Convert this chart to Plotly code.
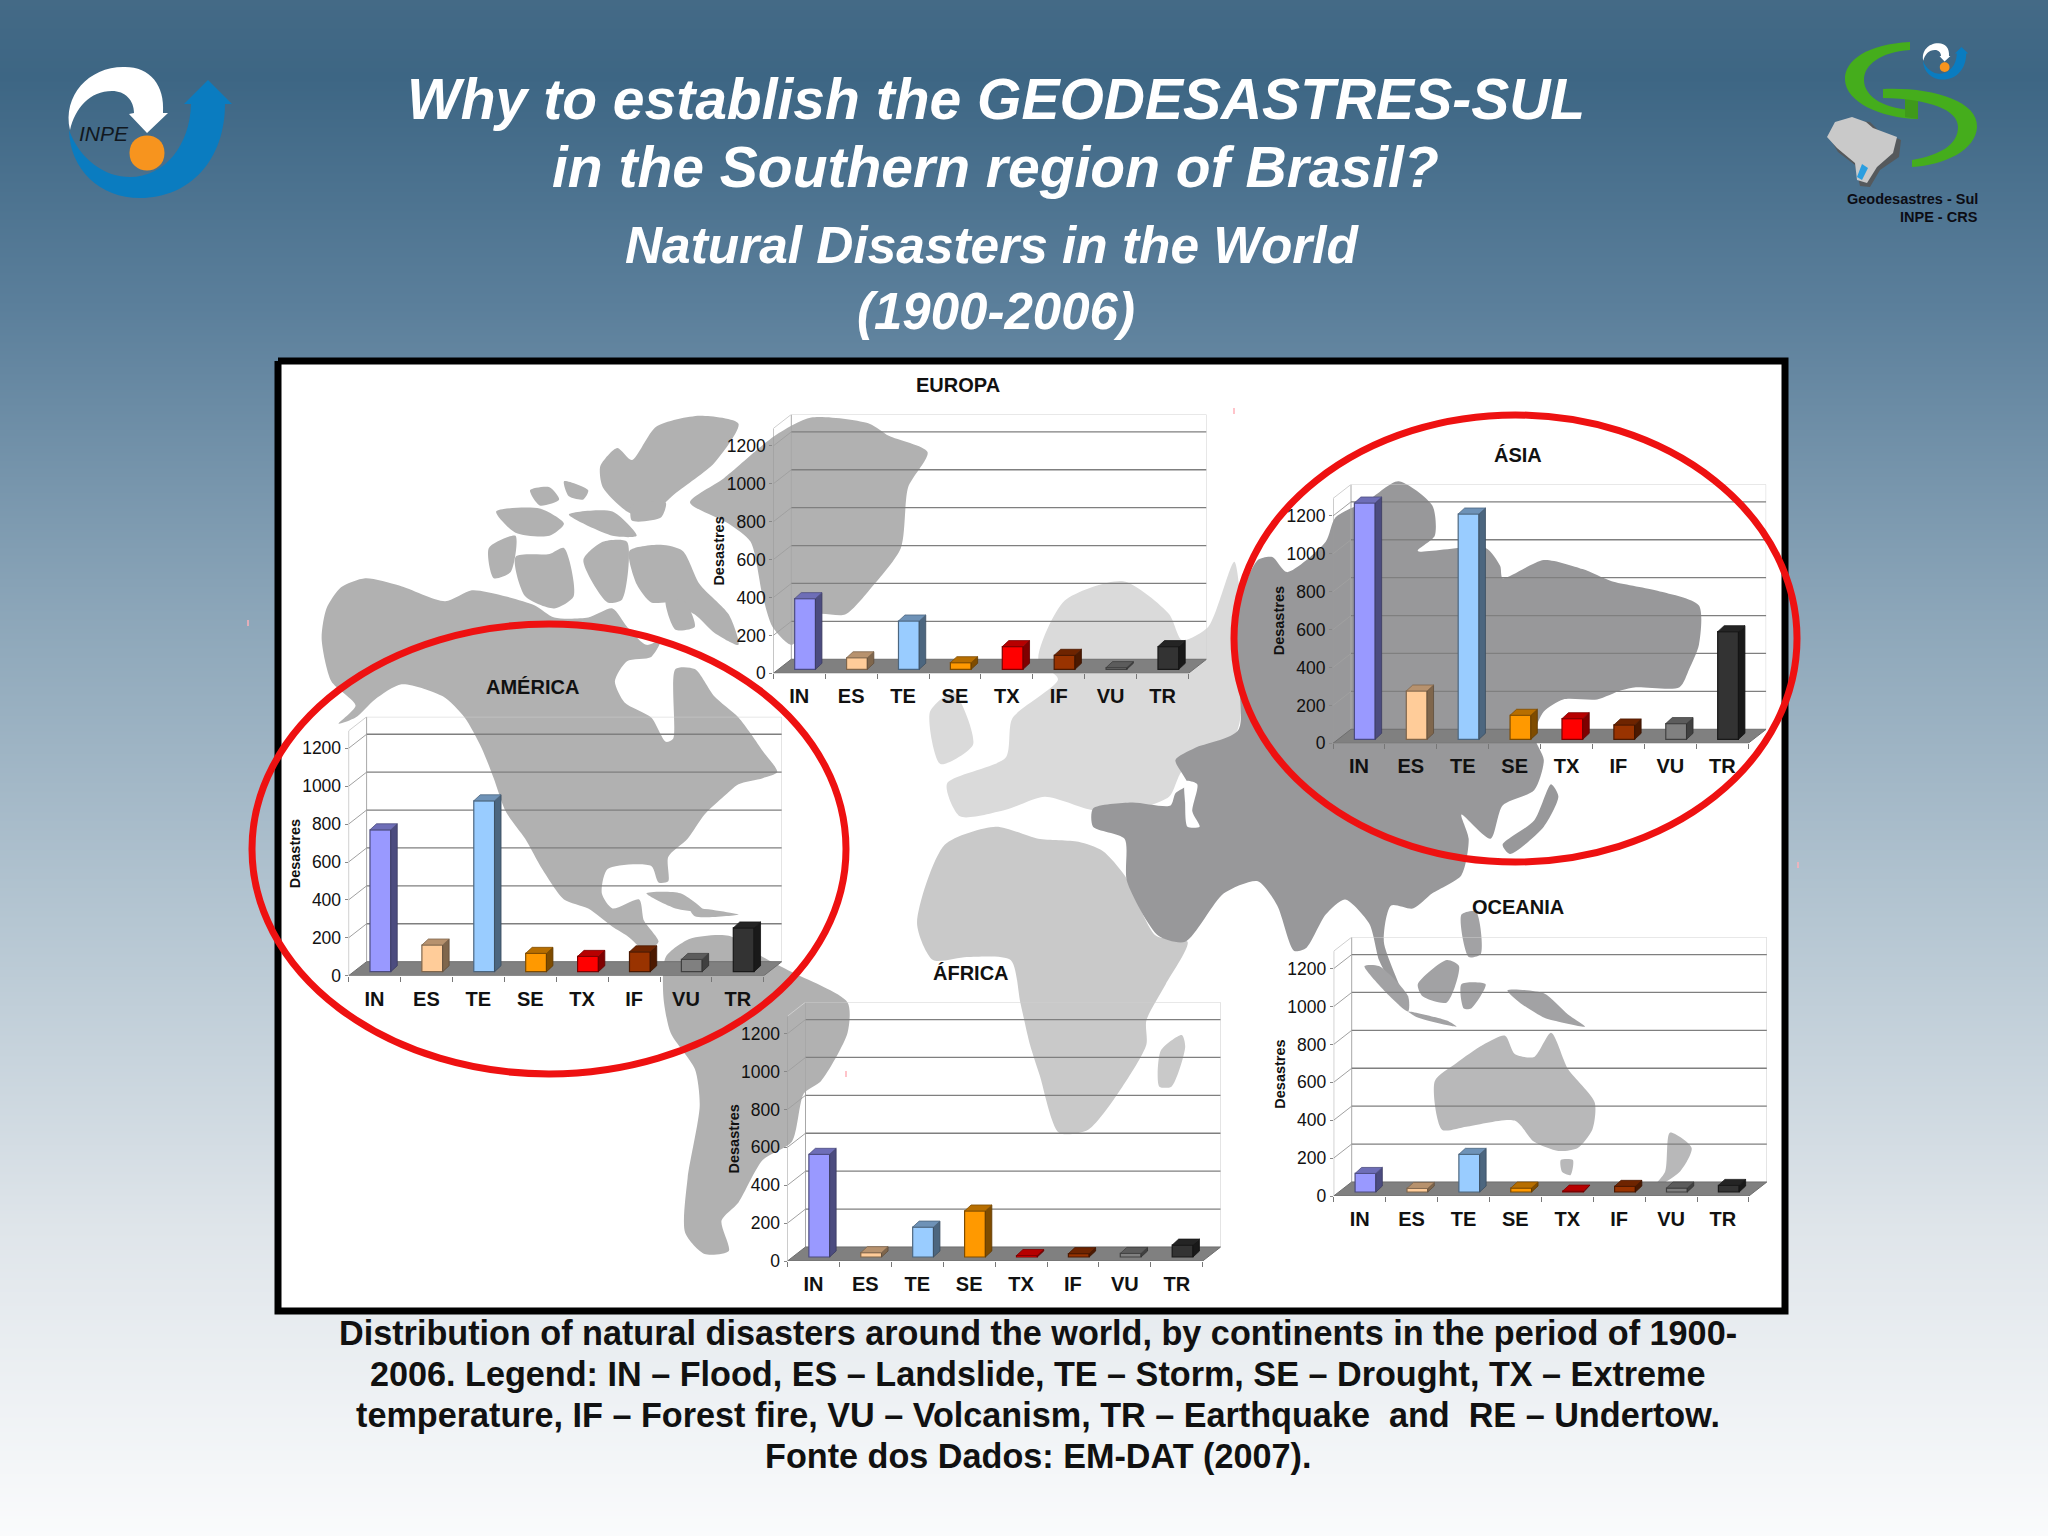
import re
import plotly.graph_objects as go

W, H = 2048, 1536
FONT = "Liberation Sans"

# values
CATEGORIES = ["IN", "ES", "TE", "SE", "TX", "IF", "VU", "TR"]
Y_TICKS = [0, 200, 400, 600, 800, 1000, 1200]
AMERICA = [749, 141, 902, 97, 81, 105, 65, 231]
EUROPA = [373, 61, 255, 35, 120, 74, 9, 120]
ASIA = [1247, 255, 1189, 127, 109, 76, 83, 568]
AFRICA = [542, 23, 158, 243, 8, 18, 19, 63]
OCEANIA = [98, 19, 199, 21, 5, 30, 21, 35]
BAR_COLORS = ["#9999ff", "#ffcc99", "#99ccff", "#ff9900", "#ff0000", "#993300", "#808080", "#333333"]

# name, values, x of front axis, y of front zero, title x, title y
PANELS = [
    ("AMÉRICA", AMERICA, 348.6, 975.7, 532, 687),
    ("EUROPA", EUROPA, 773.3, 673.3, 958, 385),
    ("ÁSIA", ASIA, 1333.0, 743.3, 1518, 455),
    ("ÁFRICA", AFRICA, 787.5, 1261.0, 971, 973),
    ("OCEANIA", OCEANIA, 1333.7, 1196.0, 1518, 907),
]

# page background, top to bottom
BG_STOPS = [[0, "#446a86"], [0.05, "#3d6684"], [0.2, "#5b7f9b"], [0.4, "#8ca6b9"],
            [0.6, "#b5c6d2"], [0.8, "#dfe5ea"], [1, "#fafbfc"]]

# map outlines, in the pixels of the crops they were traced on
L = (278, 360, 2.063, 1.65)
R = (1030, 360, 2.063, 1.65)
A = (710, 950, 2.904, 3)
P = (0, 0, 0.7656, 0.7656)
GREY_AM = "#b1b1b1"
GREY_EU = "#dadada"
GREY_AF = "#c9c9c9"
GREY_AS = "#98989a"
GREY_OC = "#b8b8b9"
GREY_ID = "#a2a2a4"
MAP = [
    (L, GREY_AM, [(90,460),(100,410),(130,375),(180,360),(250,372),(345,398),(400,380),(460,388),(530,405),(570,425),(640,425),(690,410),(720,440),(760,470),(790,462),(770,490),(720,497),(695,530),(715,565),(770,590),(800,630),(815,625),(820,510),(860,510),(900,555),(950,590),(1000,645),(1030,680),(1000,690),(950,700),(920,720),(880,750),(845,790),(805,820),(805,860),(785,862),(770,835),(680,840),(668,880),(690,905),(745,890),(755,925),(785,960),(760,975),(720,950),(690,935),(640,905),(590,890),(545,840),(510,790),(470,745),(445,690),(420,640),(385,590),(340,555),(255,535),(200,560),(160,590),(125,600),(160,570),(110,530)]),
    (L, GREY_AM, [(800,985),(850,955),(930,950),(1000,985),(1060,1010),(1175,1060),(1175,1110),(1120,1190),(1085,1210),(1060,1290),(1000,1320),(950,1390),(915,1420),(930,1470),(880,1475),(840,1440),(845,1350),(870,1230),(860,1170),(810,1110),(795,1050)]),
    (L, GREY_AM, [(850,235),(920,195),(1025,125),(1100,95),(1220,105),(1260,125),(1340,152),(1300,210),(1285,310),(1230,370),(1170,420),(1110,420),(1060,470),(1020,440),(1000,390),(975,300),(930,270)]),
    (L, GREY_AM, [(665,175),(700,145),(730,165),(780,110),(870,92),(950,105),(900,170),(820,220),(760,260),(720,250),(670,210)]),
    (L, GREY_AM, [(725,315),(790,305),(835,315),(870,370),(930,420),(950,470),(900,450),(860,420),(810,400),(770,400),(740,370)]),
    (L, GREY_AM, [(490,325),(560,320),(590,310),(610,390),(570,410),(510,390)]),
    (L, GREY_AM, [(435,310),(490,290),(480,350),(445,360)]),
    (L, GREY_AM, [(450,250),(540,245),(590,270),(560,290),(490,285)]),
    (L, GREY_AM, [(590,200),(640,215),(630,230),(600,225)]),
    (L, GREY_AM, [(600,255),(690,250),(740,290),(690,290)]),
    (L, GREY_AM, [(730,240),(800,235),(790,260),(730,265)]),
    (L, GREY_AM, [(630,330),(670,300),(720,300),(710,395),(680,400)]),
    (L, GREY_AM, [(520,215),(560,210),(580,230),(540,240)]),
    (L, GREY_AM, [(800,395),(840,400),(860,440),(820,445)]),
    (L, GREY_AM, [(760,880),(830,880),(880,910),(820,905)]),
    (L, GREY_AM, [(850,905),(950,915),(860,918)]),
    (P, GREY_EU, [(795,505),(815,460),(860,445),(895,470),(905,490),(925,480),(945,430),(947,560),(905,590),(895,610),(860,622),(835,620),(800,610),(770,620),(735,625),(725,600),(770,580),(775,550),(810,520)]),
    (P, GREY_EU, [(712,545),(730,530),(745,570),(720,585)]),
    (R, GREY_AF, [(-233,930),(-176,800),(-71,770),(17,790),(100,795),(150,810),(195,850),(260,950),(325,960),(280,1030),(240,1090),(240,1130),(190,1200),(120,1270),(60,1275),(20,1180),(0,1130),(-20,1060),(-40,990),(-130,985),(-200,990)]),
    (A, GREY_AF, [(1370,255),(1380,290),(1340,410),(1305,410),(1300,370),(1310,300)]),
    (R, GREY_AS, [(420,430),(470,330),(500,325),(530,350),(610,300),(630,260),(700,230),(760,200),(830,240),(835,290),(800,315),(940,310),(970,340),(975,360),(1060,330),(1140,345),(1200,365),(1290,380),(1380,405),(1380,470),(1360,510),(1340,540),(1250,540),(1220,545),(1170,560),(1100,560),(1060,580),(1040,620),(1060,660),(1040,710),(975,735),(950,790),(890,750),(905,790),(890,850),(830,880),(790,905),(745,900),(730,960),(770,1050),(740,1020),(720,990),(700,930),(650,890),(610,915),(570,970),(545,975),(510,900),(470,860),(400,880),(320,960),(265,950),(200,860),(195,790),(130,770),(130,740),(210,730),(290,735),(300,715),(325,700),(300,660),(340,640),(430,610)]),
    (R, GREY_AS, [(1075,700),(1090,720),(1060,770),(990,815),(975,800),(1040,760)]),
    (R, "#ffffff", [(320,695),(345,700),(335,745),(350,770),(325,770),(320,730)]),
    (R, GREY_ID, [(800,1030),(860,990),(885,1000),(860,1060),(810,1050)]),
    (R, GREY_ID, [(690,1000),(720,1000),(780,1050),(780,1075),(730,1040)]),
    (R, GREY_ID, [(780,1075),(860,1090),(880,1100),(800,1085)]),
    (R, GREY_ID, [(890,1030),(940,1030),(910,1070),(895,1070)]),
    (R, GREY_ID, [(890,915),(920,910),(930,980),(905,985)]),
    (R, GREY_ID, [(985,1040),(1060,1045),(1110,1080),(1145,1100),(1080,1090),(1060,1085),(1010,1060)]),
    (R, GREY_OC, [(835,1190),(880,1160),(935,1130),(980,1115),(1000,1145),(1040,1150),(1075,1110),(1110,1170),(1165,1225),(1160,1270),(1130,1300),(1090,1305),(1040,1290),(1000,1255),(900,1265),(850,1270)]),
    (R, GREY_OC, [(1095,1320),(1120,1320),(1115,1345),(1098,1340)]),
    (R, GREY_OC, [(1320,1275),(1365,1300),(1340,1340),(1280,1370),(1310,1340)]),
]

# logo outlines as svg paths
INPE_WHITE = "M 70 130 C 62 95 90 66 125 67 C 150 67 165 85 163 113 L 168 113 L 147 133 L 129 114 L 134 113 C 134 100 125 91 112 91 C 90 91 75 108 70 130 Z"
INPE_BLUE = "M 69 130 C 70 170 100 198 140 198 C 190 198 225 160 225 104 L 232 104 L 208 80 L 184 104 L 191 104 C 190 145 165 177 130 177 C 105 177 80 160 69 130 Z"
INPE_DOT = "M 129.5 153 C 129.5 129.7 164.5 129.7 164.5 153 C 164.5 176.3 129.5 176.3 129.5 153 Z"
GEO_G = "M 1910 42 C 1868 44 1844 60 1845 80 C 1846 102 1880 118 1918 119 L 1918 110 C 1885 110 1864 97 1864 80 C 1864 65 1880 52 1910 50 Z"
GEO_D = "M 1883 89 C 1930 87 1978 100 1977 127 C 1976 150 1945 165 1912 167 L 1912 160 C 1940 155 1958 145 1958 127 C 1958 110 1930 99 1883 98 Z"
GEO_STEM = "M 1905 95 L 1918 95 L 1918 119 L 1905 117 Z"
BRAZIL_SHADE = "M 1832 142 L 1840 127 L 1853 120 L 1870 122 L 1878 130 L 1901 140 L 1899 157 L 1880 170 L 1870 187 L 1860 186 L 1855 165 L 1838 152 Z"
BRAZIL = "M 1827 137 L 1835 122 L 1852 117 L 1866 122 L 1873 128 L 1897 137 L 1893 153 L 1877 167 L 1867 183 L 1857 180 L 1855 163 L 1837 148 Z"
BRAZIL_SUL = "M 1862 164 L 1868 168 L 1862 180 L 1857 177 Z"

# stray marks left on the picture next to the rings
PINK_MARKS = [(1234, 411), (846, 1074), (248, 623), (1798, 865)]


def crop_to_page(points, crop):
    ox, oy, sx, sy = crop
    xs = [ox + p[0] / sx for p in points]
    ys = [oy + p[1] / sy for p in points]
    return xs + xs[:1], ys + ys[:1]


def shade(color, f):
    r, g, b = int(color[1:3], 16), int(color[3:5], 16), int(color[5:7], 16)
    return f"rgb({int(r*f)},{int(g*f)},{int(b*f)})"


def rescale_path(path, ox, oy, s, x0=69, y0=66):
    nums = iter(range(10000))

    def fix(m):
        v = float(m.group(0))
        if next(nums) % 2 == 0:
            return f"{ox + (v - x0) * s:.1f}"
        return f"{oy + (v - y0) * s:.1f}"
    return re.sub(r"\d+(\.\d+)?", fix, path)


fig = go.Figure()
shapes = []
annotations = []


def text(s, x, y, size, color="#000000", bold=False, italic=False, anchor="center", angle=0):
    if bold:
        s = f"<b>{s}</b>"
    if italic:
        s = f"<i>{s}</i>"
    annotations.append(dict(text=s, x=x, y=y, xref="x", yref="y", showarrow=False, xanchor=anchor,
                            yanchor="middle", textangle=angle, font=dict(family=FONT, size=size, color=color)))


# page layer: gradient, frame, map
fig.add_trace(go.Heatmap(x=[0, W], y=[0, H], z=[[0, 0], [1, 1]], colorscale=BG_STOPS, zsmooth="best",
                         showscale=False, hoverinfo="skip"))
fig.add_trace(go.Scatter(x=[278, 1785, 1785, 278, 278], y=[361, 361, 1311, 1311, 361], mode="lines", fill="toself",
                         fillcolor="#ffffff", line=dict(color="#000000", width=7), hoverinfo="skip"))
for crop, color, pts in MAP:
    xs, ys = crop_to_page(pts, crop)
    fig.add_trace(go.Scatter(x=xs, y=ys, mode="lines", fill="toself", fillcolor=color,
                             line=dict(width=0, shape="spline", smoothing=0.7), hoverinfo="skip"))

# chart geometry shared by the five panels
CAT_PX = 51.9
VAL_PX = 0.1895
FRONT = -21
BACK = 53
DEPTH_X = 18 / CAT_PX
TOP = 1345
BAR_W = 0.40
BAR_OFF = 0.612
BAR_DX = 6.5 / CAT_PX
BAR_DY = 6 / VAL_PX
X_END = 8 + DEPTH_X

layout_axes = {}
for n, (name, values, x0, y0, tx, ty) in enumerate(PANELS, start=2):
    xref, yref = f"x{n}", f"y{n}"
    px_right = x0 + X_END * CAT_PX
    px_top = y0 - (TOP - FRONT) * VAL_PX
    layout_axes[f"xaxis{n}"] = dict(
        domain=[x0 / W, px_right / W], range=[0, X_END], anchor=yref, showgrid=False, zeroline=False,
        showline=False, automargin=False, tickvals=[i + 0.5 for i in range(8)], ticktext=CATEGORIES, ticks="",
        ticklabelstandoff=9, tickfont=dict(family=FONT, size=20, color="#111111", weight="bold"),
        minor=dict(tickvals=list(range(9)), ticks="outside", ticklen=5, tickcolor="#777777", tickwidth=1),
    )
    layout_axes[f"yaxis{n}"] = dict(
        domain=[1 - y0 / H, 1 - px_top / H], range=[FRONT, TOP], anchor=xref, showgrid=False, zeroline=False,
        showline=False, automargin=False, tickvals=[v + FRONT for v in Y_TICKS], ticktext=[str(v) for v in Y_TICKS],
        ticks="outside", ticklen=3, tickcolor="#888888", tickwidth=1,
        tickfont=dict(family=FONT, size=17.5, color="#111111"),
    )

    def seg(xa, ya, xb, yb, color, width=1):
        shapes.append(dict(type="line", xref=xref, yref=yref, x0=xa, y0=ya, x1=xb, y1=yb, layer="below",
                           line=dict(color=color, width=width)))

    # walls and floor
    seg(DEPTH_X, BACK, DEPTH_X, TOP, "#a8a8a8")
    seg(DEPTH_X, TOP, X_END, TOP, "#cfcfcf")
    seg(X_END, BACK, X_END, TOP, "#cfcfcf")
    seg(0, FRONT, 0, TOP - (BACK - FRONT), "#999999")
    seg(0, TOP - (BACK - FRONT), DEPTH_X, TOP, "#cfcfcf")
    for v in Y_TICKS[1:]:
        seg(DEPTH_X, v + BACK, X_END, v + BACK, "#7f7f7f", 1.3)
        seg(0, v + FRONT, DEPTH_X, v + BACK, "#a0a0a0")
    shapes.append(dict(type="path", xref=xref, yref=yref, layer="below", fillcolor="#808080",
                       line=dict(color="#6e6e6e", width=1),
                       path=f"M 0 {FRONT} L 8 {FRONT} L {X_END} {BACK} L {DEPTH_X} {BACK} Z"))

    # bars: front through go.Bar, side and top faces from the same values
    centers = [i + BAR_OFF for i in range(8)]
    fig.add_trace(go.Bar(x=centers, y=values, width=BAR_W, xaxis=xref, yaxis=yref, hoverinfo="skip",
                         marker=dict(color=BAR_COLORS, line=dict(color=[shade(c, 0.5) for c in BAR_COLORS], width=1.2))))
    for c, v, col in zip(centers, values, BAR_COLORS):
        xl, xr = c - BAR_W / 2, c + BAR_W / 2
        fig.add_trace(go.Scatter(x=[xr, xr + BAR_DX, xr + BAR_DX, xr, xr], y=[0, BAR_DY, v + BAR_DY, v, 0],
                                 xaxis=xref, yaxis=yref, mode="lines", fill="toself", fillcolor=shade(col, 0.5),
                                 line=dict(color=shade(col, 0.38), width=0.8), hoverinfo="skip"))
        fig.add_trace(go.Scatter(x=[xl, xr, xr + BAR_DX, xl + BAR_DX, xl], y=[v, v, v + BAR_DY, v + BAR_DY, v],
                                 xaxis=xref, yaxis=yref, mode="lines", fill="toself", fillcolor=shade(col, 0.72),
                                 line=dict(color=shade(col, 0.5), width=0.8), hoverinfo="skip"))

    text(name, tx, ty, 20, "#111111", bold=True)
    text("Desastres", x0 - 54, y0 - 122, 14.5, "#111111", bold=True, angle=-90)

# red rings
for xa, xb, ya, yb in [(252, 846, 624, 1074), (1234, 1797, 415, 862)]:
    shapes.append(dict(type="circle", xref="x", yref="y", x0=xa, x1=xb, y0=ya, y1=yb, layer="above",
                       line=dict(color="#ee1111", width=7)))
for mx, my in PINK_MARKS:
    shapes.append(dict(type="line", xref="x", yref="y", x0=mx, x1=mx, y0=my - 3, y1=my + 3, layer="above",
                       line=dict(color="#ffb0b8", width=1.5)))

# logos
for path, color in [(INPE_BLUE, "#0a7cc0"), (INPE_WHITE, "#ffffff"), (INPE_DOT, "#f7941e")]:
    shapes.append(dict(type="path", xref="x", yref="y", path=path, fillcolor=color, line=dict(width=0), layer="above"))
    shapes.append(dict(type="path", xref="x", yref="y", path=rescale_path(path, 1923, 43, 0.277), fillcolor=color,
                       line=dict(width=0), layer="above"))
for path, color in [(GEO_G, "#45ad1c"), (GEO_STEM, "#3f9a1a"), (GEO_D, "#45ad1c"), (BRAZIL_SHADE, "#55595c"),
                    (BRAZIL, "#c9c9c9"), (BRAZIL_SUL, "#2a9ee0")]:
    shapes.append(dict(type="path", xref="x", yref="y", path=path, fillcolor=color, line=dict(width=0), layer="above"))
text("INPE", 104, 133, 21, "#111820", italic=True)
text("Geodesastres - Sul", 1980, 199, 14.5, "#0c0c14", bold=True, anchor="right")
text("INPE - CRS", 1980, 217, 14.5, "#0c0c14", bold=True, anchor="right")

# titles
text("Why to establish the GEODESASTRES-SUL", 996, 99, 57, "#ffffff", bold=True, italic=True)
text("in the Southern region of Brasil?", 995, 167, 57, "#ffffff", bold=True, italic=True)
text("Natural Disasters in the World", 992, 245, 51.4, "#ffffff", bold=True, italic=True)
text("(1900-2006)", 996, 311, 51, "#ffffff", bold=True, italic=True)

# caption
CAPTION = [
    "Distribution of natural disasters around the world, by continents in the period of 1900-",
    "2006. Legend: IN – Flood, ES – Landslide, TE – Storm, SE – Drought, TX – Extreme",
    "temperature, IF – Forest fire, VU – Volcanism, TR – Earthquake  and  RE – Undertow.",
    "Fonte dos Dados: EM-DAT (2007).",
]
for line, y in zip(CAPTION, [1333, 1374, 1415, 1456]):
    text(line, 1038, y, 34.2, "#111111", bold=True)

fig.update_layout(
    width=W, height=H, margin=dict(l=0, r=0, t=0, b=0, autoexpand=False), showlegend=False,
    paper_bgcolor="#ffffff", plot_bgcolor="rgba(0,0,0,0)", barmode="overlay",
    xaxis=dict(range=[0, W], domain=[0, 1], visible=False, automargin=False),
    yaxis=dict(range=[H, 0], domain=[0, 1], visible=False, automargin=False),
    shapes=shapes, annotations=annotations, **layout_axes,
)

fig.write_html("out.html", config={"displayModeBar": False}, post_script="document.body.style.margin='0';")
